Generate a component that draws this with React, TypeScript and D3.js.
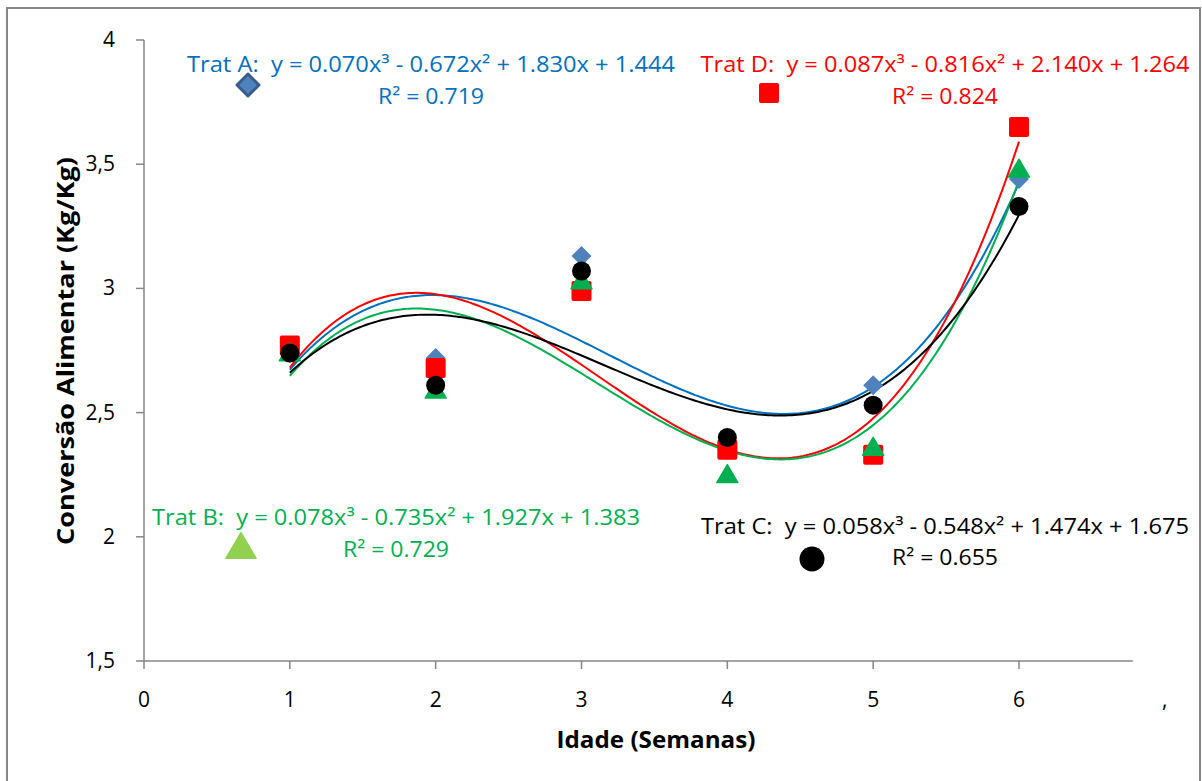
import React from "react";
import * as d3 from "d3";

const weeks = [1, 2, 3, 4, 5, 6];
const tratA = [2.74, 2.72, 3.13, 2.35, 2.61, 3.44];
const tratB = [2.74, 2.59, 3.03, 2.25, 2.36, 3.48];
const tratC = [2.74, 2.61, 3.07, 2.4, 2.53, 3.33];
const tratD = [2.77, 2.68, 2.99, 2.35, 2.33, 3.65];

const xTicks = [0, 1, 2, 3, 4, 5, 6];
const yTicks = [1.5, 2, 2.5, 3, 3.5, 4];

const equations = [
  { name: "A", line1: "Trat A:\u00a0 y = 0.070x³ - 0.672x² + 1.830x + 1.444", line2: "R² = 0.719" },
  { name: "B", line1: "Trat B:\u00a0 y = 0.078x³ - 0.735x² + 1.927x + 1.383", line2: "R² = 0.729" },
  { name: "C", line1: "Trat C:\u00a0 y = 0.058x³ - 0.548x² + 1.474x + 1.675", line2: "R² = 0.655" },
  { name: "D", line1: "Trat D:\u00a0 y = 0.087x³ - 0.816x² + 2.140x + 1.264", line2: "R² = 0.824" },
];

const FONT = "'Open Sans', 'Noto Sans', sans-serif";

// least squares cubic fit, like the Excel trendline
const cubicFit = (xs: number[], ys: number[]) => {
  const n = 4;
  const m: number[][] = [];
  for (let i = 0; i < n; i++) {
    const row: number[] = [];
    for (let j = 0; j < n; j++) row.push(d3.sum(xs, (x) => Math.pow(x, i + j)));
    row.push(d3.sum(xs, (x, k) => Math.pow(x, i) * ys[k]));
    m.push(row);
  }
  for (let c = 0; c < n; c++) {
    let p = c;
    for (let r = c + 1; r < n; r++) if (Math.abs(m[r][c]) > Math.abs(m[p][c])) p = r;
    [m[c], m[p]] = [m[p], m[c]];
    for (let r = 0; r < n; r++) {
      if (r === c) continue;
      const f = m[r][c] / m[c][c];
      for (let k = c; k <= n; k++) m[r][k] -= f * m[c][k];
    }
  }
  const coef = m.map((row, i) => row[n] / row[i]);
  return (x: number) => coef[0] + coef[1] * x + coef[2] * x * x + coef[3] * x * x * x;
};

const Marker = ({ type, x, y, s, fill, stroke, strokeWidth }: any) => {
  if (type === "diamond")
    return (
      <path
        d={`M${x},${y - s}L${x + s},${y}L${x},${y + s}L${x - s},${y}Z`}
        fill={fill}
        stroke={stroke}
        strokeWidth={strokeWidth}
        strokeLinejoin="round"
      />
    );
  if (type === "square")
    return <rect x={x - s} y={y - s} width={2 * s} height={2 * s} rx={2} fill={fill} />;
  if (type === "triangle")
    return (
      <path
        d={`M${x},${y - s * 0.95}L${x + s},${y + s * 0.75}L${x - s},${y + s * 0.75}Z`}
        fill={fill}
        stroke={fill}
        strokeWidth={1.5}
        strokeLinejoin="round"
      />
    );
  return <circle cx={x} cy={y} r={s} fill={fill} />;
};

export default function App() {
  const x = d3.scaleLinear().domain([0, 6]).range([144, 1019]);
  const y = d3.scaleLinear().domain([1.5, 4]).range([661, 40]);
  const xAxisEnd = 6.78;

  const series = [
    { values: tratA, marker: "diamond", fill: "#4F81BD", line: "#0070C0", s: 10 },
    { values: tratD, marker: "square", fill: "#FF0000", line: "#FF0000", s: 10 },
    { values: tratB, marker: "triangle", fill: "#00B050", line: "#00B050", s: 10.5 },
    { values: tratC, marker: "circle", fill: "#000000", line: "#000000", s: 9.5 },
  ];

  const fineX = d3.range(1, 6.0001, 0.02);

  const eqStyle: Record<string, any> = {
    A: { cx: 431, y1: 72, y2: 104, color: "#0070C0", w: 488 },
    B: { cx: 396, y1: 525, y2: 557, color: "#00B050", w: 488 },
    C: { cx: 945, y1: 534, y2: 565, color: "#000000", w: 488 },
    D: { cx: 945, y1: 72, y2: 104, color: "#FF0000", w: 489 },
  };

  return (
    <svg
      width={1202}
      height={781}
      style={{ position: "absolute", left: 0, top: 0, background: "#fff" }}
      fontFamily={FONT}
    >
      <path d="M7,781V8H1200V781" fill="none" stroke="#868686" strokeWidth={2} />

      {/* axes */}
      <line x1={x(0)} y1={y(4)} x2={x(0)} y2={y(1.5)} stroke="#868686" strokeWidth={1.5} />
      <line x1={x(0)} y1={y(1.5)} x2={x(xAxisEnd)} y2={y(1.5)} stroke="#868686" strokeWidth={1.5} />
      {yTicks.map((t) => (
        <g key={t}>
          <line x1={x(0) - 8} x2={x(0)} y1={y(t)} y2={y(t)} stroke="#868686" strokeWidth={1.5} />
          <text x={115} y={y(t) + 7} textAnchor="end" fontSize={21} fill="#000">
            {String(t).replace(".", ",")}
          </text>
        </g>
      ))}
      {xTicks.map((t) => (
        <g key={t}>
          <line x1={x(t)} x2={x(t)} y1={y(1.5)} y2={y(1.5) + 8} stroke="#868686" strokeWidth={1.5} />
          <text x={x(t)} y={707} textAnchor="middle" fontSize={21} fill="#000">
            {t}
          </text>
        </g>
      ))}
      <text x={x(7)} y={707} textAnchor="middle" fontSize={21} fill="#000">
        ,
      </text>

      <text
        x={656}
        y={748}
        textAnchor="middle"
        fontSize={23}
        fontWeight="bold"
        textLength={199}
        lengthAdjust="spacingAndGlyphs"
      >
        Idade (Semanas)
      </text>
      <text
        transform="translate(74,351) rotate(-90)"
        textAnchor="middle"
        fontSize={23}
        fontWeight="bold"
        textLength={388}
        lengthAdjust="spacingAndGlyphs"
      >
        Conversão Alimentar (Kg/Kg)
      </text>

      {/* trend lines */}
      {series.map((s, i) => {
        const f = cubicFit(weeks, s.values);
        const path = d3
          .line<number>()
          .x((d) => x(d))
          .y((d) => y(f(d)))(fineX);
        return <path key={i} d={path || ""} fill="none" stroke={s.line} strokeWidth={2} />;
      })}

      {/* points */}
      {series.map((s, i) => (
        <g key={i}>
          {s.values.map((v, k) => (
            <Marker key={k} type={s.marker} x={x(weeks[k])} y={y(v)} s={s.s} fill={s.fill} />
          ))}
        </g>
      ))}

      {/* trendline labels */}
      {equations.map((e) => {
        const st = eqStyle[e.name];
        return (
          <g key={e.name} fill={st.color} fontSize={21}>
            <text x={st.cx} y={st.y1} textAnchor="middle" textLength={st.w} lengthAdjust="spacingAndGlyphs">
              {e.line1}
            </text>
            <text x={st.cx} y={st.y2} textAnchor="middle" textLength={106} lengthAdjust="spacingAndGlyphs">
              {e.line2}
            </text>
          </g>
        );
      })}

      {/* legend markers */}
      <Marker type="diamond" x={248} y={85} s={11} fill="#4F81BD" stroke="#385D8A" strokeWidth={3} />
      <Marker type="square" x={769} y={93} s={10} fill="#FF0000" />
      <Marker type="triangle" x={241} y={547} s={15} fill="#92D050" />
      <Marker type="circle" x={812} y={559} s={12.5} fill="#000000" />
    </svg>
  );
}
